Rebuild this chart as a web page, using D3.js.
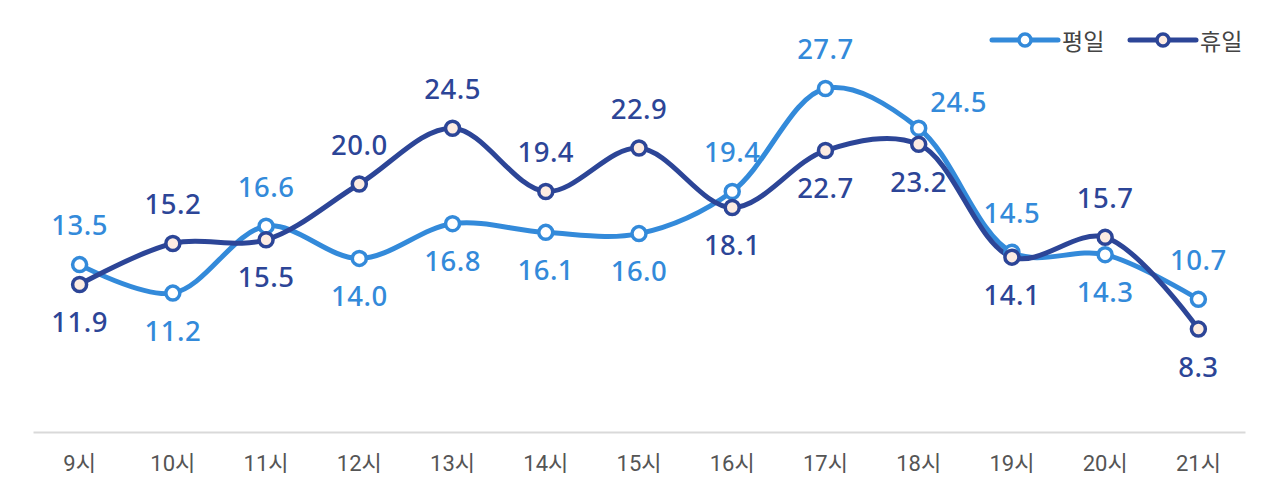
<!DOCTYPE html>
<html>
<head>
<meta charset="utf-8">
<script src="https://cdn.jsdelivr.net/npm/d3@7"></script>
<style>
  body { margin: 0; background: #fff; }
  svg { display: block; }
</style>
</head>
<body>
<svg id="chart"></svg>
<script>
// data
const hours = ['9시', '10시', '11시', '12시', '13시', '14시', '15시', '16시', '17시', '18시', '19시', '20시', '21시'];
const weekday = [13.5, 11.2, 16.6, 14.0, 16.8, 16.1, 16.0, 19.4, 27.7, 24.5, 14.5, 14.3, 10.7];
const holiday = [11.9, 15.2, 15.5, 20.0, 24.5, 19.4, 22.9, 18.1, 22.7, 23.2, 14.1, 15.7, 8.3];
// where each value label goes relative to its point
const weekdayLabelPos = ['up', 'down', 'up', 'down', 'down', 'down', 'down', 'up', 'up', 'right', 'up', 'down', 'up'];
const holidayLabelPos = ['down', 'up', 'down', 'up', 'up', 'up', 'up', 'down', 'down', 'down', 'down', 'up', 'down'];
const seriesNames = ['평일', '휴일'];

const W = 1279, H = 489;
const margin = { top: 60, right: 34, bottom: 57, left: 33 };
const width = W - margin.left - margin.right;
const height = H - margin.top - margin.bottom;

const colors = { weekday: '#338ada', holiday: '#2c4597' };

const svg = d3.select('#chart').attr('width', W).attr('height', H);
const chart = svg.append('g').attr('transform', `translate(${margin.left},${margin.top})`);

const xScale = d3.scaleBand().domain(hours).range([0, width]);
const yScale = d3.scaleLinear().domain([0, 30]).range([height, 0]);
const xPos = d => xScale(d) + xScale.bandwidth() / 2;

// x axis
const xAxis = d3.axisBottom(xScale).tickSize(0).tickPadding(23);
const xAxisG = chart.append('g')
    .attr('transform', `translate(0,${height})`)
    .call(xAxis);
xAxisG.select('.domain').attr('stroke', '#d9d9d9').attr('stroke-width', 2);
xAxisG.selectAll('text')
    .attr('font-family', 'Roboto, "Noto Sans CJK KR", sans-serif')
    .attr('font-size', 22)
    .attr('fill', '#555');

const line = d3.line()
    .x((d, i) => xPos(hours[i]))
    .y(d => yScale(d))
    .curve(d3.curveCatmullRom.alpha(0.5));

const series = [
  { key: 'weekday', values: weekday, pos: weekdayLabelPos, fill: '#ffffff' },
  { key: 'holiday', values: holiday, pos: holidayLabelPos, fill: '#fdece2' }
];

series.forEach(s => {
  chart.append('path')
      .datum(s.values)
      .attr('fill', 'none')
      .attr('stroke', colors[s.key])
      .attr('stroke-width', 5)
      .attr('stroke-linejoin', 'round')
      .attr('d', line);
});

series.forEach(s => {
  chart.selectAll('.dot-' + s.key)
      .data(s.values)
      .enter()
    .append('circle')
      .attr('class', 'dot-' + s.key)
      .attr('cx', (d, i) => xPos(hours[i]))
      .attr('cy', d => yScale(d))
      .attr('r', 7)
      .attr('fill', s.fill)
      .attr('stroke', colors[s.key])
      .attr('stroke-width', 3.5);
});

// value labels
series.forEach(s => {
  chart.selectAll('.lbl-' + s.key)
      .data(s.values)
      .enter()
    .append('text')
      .attr('class', 'lbl-' + s.key)
      .attr('x', (d, i) => xPos(hours[i]) + (s.pos[i] === 'right' ? 40 : 0))
      .attr('y', (d, i) => yScale(d) + (s.pos[i] === 'up' ? -40 : s.pos[i] === 'down' ? 37 : -27))
      .attr('text-anchor', 'middle')
      .attr('dominant-baseline', 'central')
      .attr('font-family', '"Noto Sans", sans-serif')
      .attr('font-weight', 500)
      .attr('font-size', 27.5)
      .attr('letter-spacing', 0.5)
      .attr('fill', colors[s.key])
      .text(d => d.toFixed(1));
});

// legend
const legend = svg.append('g').attr('transform', 'translate(992,40)');
const legendX = [0, 138];
series.forEach((s, i) => {
  const g = legend.append('g').attr('transform', `translate(${legendX[i]},0)`);
  g.append('line')
      .attr('x1', 0).attr('x2', 66)
      .attr('stroke', colors[s.key])
      .attr('stroke-width', 5)
      .attr('stroke-linecap', 'round');
  g.append('circle')
      .attr('cx', 33).attr('r', 6)
      .attr('fill', s.fill)
      .attr('stroke', colors[s.key])
      .attr('stroke-width', 3.5);
  g.append('text')
      .attr('x', 70)
      .attr('dominant-baseline', 'central')
      .attr('font-family', '"Noto Sans CJK KR", sans-serif')
      .attr('font-size', 23)
      .attr('fill', '#444')
      .text(seriesNames[i]);
});
</script>
</body>
</html>
